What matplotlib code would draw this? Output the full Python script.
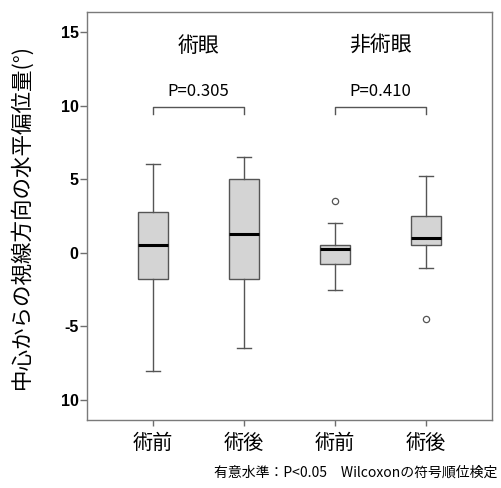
import matplotlib
matplotlib.use("Agg")
import matplotlib.pyplot as plt

plt.rcParams['font.family'] = ['Noto Sans CJK JP', 'DejaVu Sans']

# five-number summaries per group (degrees)
labels = ['術前', '術後', '術前', '術後']
whislo = [-8.0, -6.5, -2.5, -1.0]
q1 = [-1.75, -1.75, -0.75, 0.5]
med = [0.5, 1.25, 0.25, 1.0]
q3 = [2.75, 5.0, 0.5, 2.5]
whishi = [6.0, 6.5, 2.0, 5.25]
fliers = [[], [], [3.5], [-4.5]]

groups = ['術眼', '非術眼']
p_values = ['P=0.305', 'P=0.410']

yticks = [-10, -5, 0, 5, 10, 15]
ytick_labels = ['10', '-5', '0', '5', '10', '15']

stats = []
for i in range(len(labels)):
    stats.append(dict(whislo=whislo[i], q1=q1[i], med=med[i], q3=q3[i],
                      whishi=whishi[i], fliers=fliers[i]))

fig = plt.figure(figsize=(5.01, 4.88), dpi=100)
ax = fig.add_axes([0.1737, 0.1393, 0.8083, 0.8361])

pos = [1, 2, 3, 4]
edge = '#555555'
ax.bxp(stats, positions=pos, widths=0.34, capwidths=0.15, patch_artist=True,
       boxprops=dict(facecolor='#d4d4d4', edgecolor=edge, linewidth=1.0),
       medianprops=dict(color='black', linewidth=2.2),
       whiskerprops=dict(color=edge, linewidth=1.0),
       capprops=dict(color=edge, linewidth=1.0),
       flierprops=dict(marker='o', markersize=4.5, markerfacecolor='white',
                       markeredgecolor=edge, markeredgewidth=0.9))

ax.set_xlim(0.275, 4.725)
ax.set_ylim(-11.36, 16.36)
ax.set_xticks(pos)
ax.set_xticklabels(labels, fontsize=14.5)
ax.set_yticks(yticks)
ax.set_yticklabels(ytick_labels, fontsize=11.5, fontweight='bold',
                   family='Liberation Sans')
ax.tick_params(axis='y', length=5, width=1, color='#6e6e6e', pad=1)
ax.tick_params(axis='x', length=4, width=1, color='#6e6e6e', pad=5)
for s in ax.spines.values():
    s.set_color('#7a7a7a')
    s.set_linewidth(1.0)

ax.set_ylabel('中心からの視線方向の水平偏位量(°)', fontsize=15.5, va='center')
ax.yaxis.set_label_coords(-0.162, 0.5)

# group titles, brackets and p-values
for k in range(2):
    x0, x1 = pos[2 * k], pos[2 * k + 1]
    xc = (x0 + x1) / 2
    ax.text(xc, 14.07, groups[k], ha='center', va='center', fontsize=15)
    ax.text(xc, 10.95, p_values[k], ha='center', va='center', fontsize=12)
    ax.plot([x0, x0, x1, x1], [9.45, 9.93, 9.93, 9.45], color=edge, lw=1.0)

fig.text(0.992, 0.018, '有意水準：P<0.05　Wilcoxonの符号順位検定',
         ha='right', va='bottom', fontsize=10)

fig.savefig('out.png', dpi=100)
